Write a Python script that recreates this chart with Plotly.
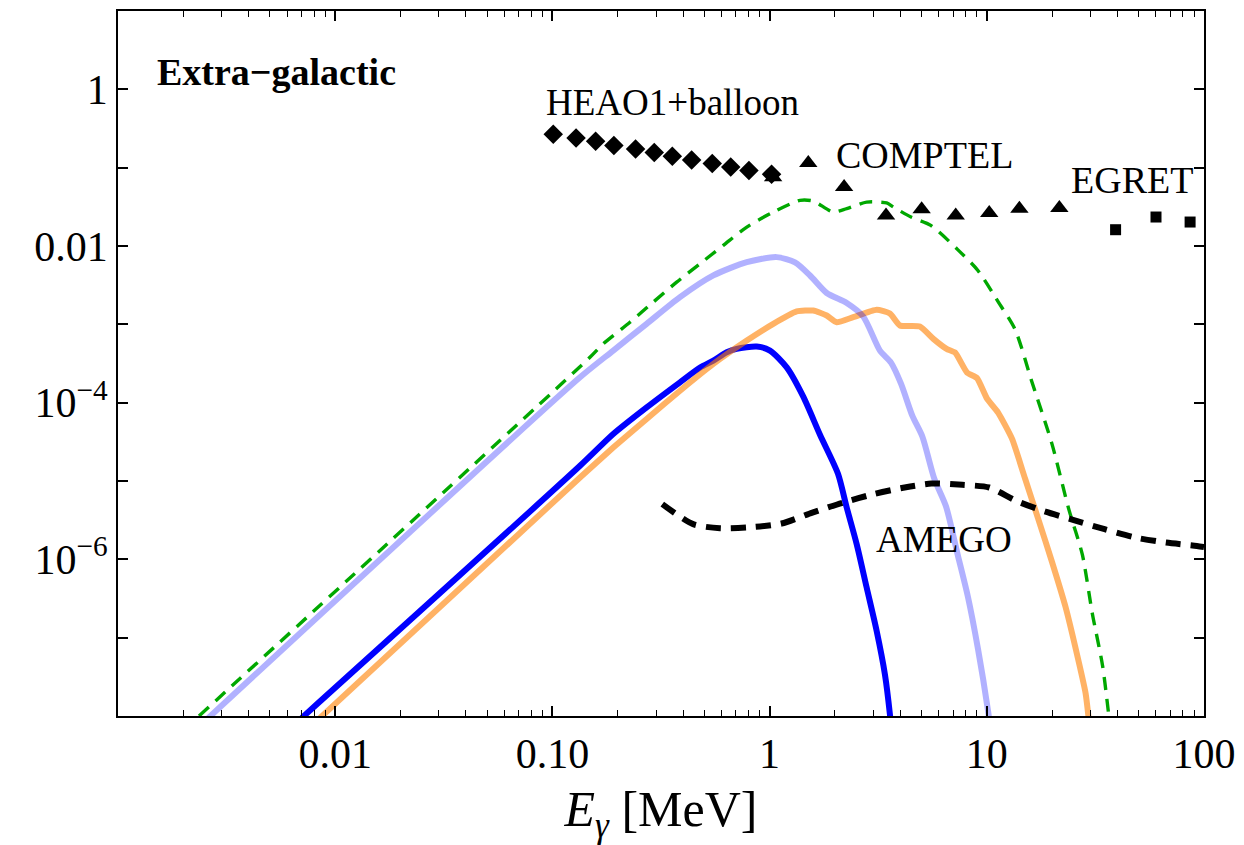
import plotly.graph_objects as go

# ---------------- data ----------------
# Blue solid curve
blue_E = [7.015e-3, 0.1340, 0.1906, 0.2716, 0.3868, 0.4786, 0.5508, 0.6346, 0.7055, 0.8723,
          1.004, 1.199, 1.429, 1.706, 2.065, 2.265, 2.518, 2.799, 3.112, 3.396, 3.581, 3.622]
blue_F = [9.46e-9, 1.563e-5, 3.981e-5, 8.710e-5, 1.820e-4, 2.805e-4, 3.443e-4, 4.395e-4, 4.864e-4, 5.200e-4,
          4.624e-4, 2.825e-4, 1.194e-4, 3.899e-5, 1.236e-5, 4.581e-6, 1.560e-6, 4.345e-7, 1.213e-7, 3.396e-8, 1.045e-8, 7.41e-9]

# Light-blue (lavender) curve
lav_E = [2.606e-3, 0.1340, 0.1906, 0.2716, 0.3868, 0.5508, 0.7852, 1.079, 1.309, 1.535, 1.832, 2.265, 2.698,
         3.221, 3.622, 4.027, 4.539, 5.053, 5.728, 6.486, 7.345, 8.178, 9.099, 10.13, 10.35]
lav_F = [9.46e-9, 2.108e-4, 4.624e-4, 1.014e-3, 2.223e-3, 4.207e-3, 6.223e-3, 7.211e-3, 6.166e-3, 4.207e-3,
         2.512e-3, 1.871e-3, 1.259e-3, 4.624e-4, 3.251e-4, 1.750e-4, 6.823e-5, 3.673e-5, 1.076e-5, 4.764e-6,
         1.146e-6, 3.365e-7, 7.295e-8, 1.167e-8, 7.41e-9]

# Orange curve
orange_E = [8.511e-3, 0.1340, 0.1906, 0.2716, 0.3868, 0.5508, 0.7852, 1.040, 1.333, 1.589, 1.832, 2.037,
            2.427, 3.112, 3.581, 3.981, 4.920, 5.675, 6.531, 7.145, 8.110, 9.016, 10.02, 11.27, 13.06,
            15.00, 17.32, 19.95, 23.03, 25.64, 28.51, 29.54]
orange_F = [9.46e-9, 1.109e-5, 2.679e-5, 6.194e-5, 1.422e-4, 3.126e-4, 6.209e-4, 1.014e-3, 1.459e-3, 1.500e-3,
            1.297e-3, 1.064e-3, 1.233e-3, 1.531e-3, 1.374e-3, 9.66e-4, 9.376e-4, 6.531e-4, 4.864e-4, 4.355e-4,
            2.421e-4, 2.056e-4, 1.125e-4, 7.464e-5, 3.467e-5, 1.076e-5, 3.170e-6, 9.311e-7, 2.477e-7,
            7.295e-8, 1.941e-8, 8.59e-9]

# Green dashed curve
green_E = [2.360e-3, 0.1489, 0.1714, 0.2275, 0.2911, 0.3733, 0.4786, 0.6124, 0.7852, 1.040, 1.380, 1.589,
           1.963, 2.265, 2.799, 3.459, 3.715, 4.477, 5.521, 7.345, 9.099, 11.27, 13.49, 16.11, 19.95,
           23.88, 27.54, 30.62, 34.12, 36.81]
green_F = [1.0e-8, 3.793e-4, 5.636e-4, 1.064e-3, 1.919e-3, 3.451e-3, 5.943e-3, 1.019e-2, 1.746e-2, 2.716e-2,
           3.828e-2, 3.750e-2, 2.716e-2, 3.000e-2, 3.639e-2, 3.540e-2, 3.141e-2, 2.344e-2, 1.832e-2, 8.995e-3,
           4.875e-3, 1.950e-3, 8.630e-4, 1.866e-4, 2.979e-5, 4.305e-6, 1.146e-6, 2.023e-7, 4.385e-8, 7.94e-9]

# AMEGO sensitivity (black dashed)
amego_E = [0.3206, 0.4446, 0.5908, 0.8531, 1.135, 1.573, 2.180, 3.018, 4.183, 5.566, 7.709, 10.26, 13.66,
           18.16, 25.16, 34.86, 48.31, 66.99, 92.68, 100.0]
amego_F = [5.070e-6, 2.812e-6, 2.500e-6, 2.594e-6, 2.864e-6, 3.954e-6, 5.309e-6, 6.808e-6, 8.260e-6, 9.290e-6,
           8.933e-6, 8.260e-6, 5.585e-6, 4.159e-6, 3.162e-6, 2.427e-6, 1.897e-6, 1.637e-6, 1.483e-6, 1.439e-6]

# Data points
heao_E = [0.1009, 0.1285, 0.1581, 0.1919, 0.2415, 0.2944, 0.3565, 0.4375, 0.5445, 0.6622, 0.8035, 1.021]
heao_F = [0.2673, 0.2399, 0.2178, 0.1919, 0.1734, 0.1560, 0.1400, 0.1256, 0.1127, 0.1021, 0.0918, 0.0824]

comptel_E = [1.038, 1.507, 2.203, 3.436, 5.012, 7.194, 10.26, 14.13, 21.58]
comptel_F = [0.0753, 0.1148, 0.0566, 0.0246, 0.0294, 0.0246, 0.0264, 0.0300, 0.0305]

egret_E = [39.17, 60.12, 86.30]
egret_F = [0.01614, 0.02344, 0.02023]

# Axis ticks
x_major = [0.01, 0.1, 1, 10, 100]
x_major_text = ["0.01", "0.10", "1", "10", "100"]
y_decades = [1e-8, 1e-7, 1e-6, 1e-5, 1e-4, 1e-3, 1e-2, 1e-1, 1, 10]
y_labels = {1e-6: "10<sup>\u22126</sup>", 1e-4: "10<sup>\u22124</sup>", 1e-2: "0.01", 1: "1"}

# ---------------- figure ----------------
FONT = "Liberation Serif"
fig = go.Figure()

SM = 0.7
fig.add_trace(go.Scatter(x=blue_E, y=blue_F, mode="lines",
                         line=dict(color="#0000FF", width=6, shape="spline", smoothing=SM), showlegend=False))
fig.add_trace(go.Scatter(x=orange_E, y=orange_F, mode="lines", opacity=0.6,
                         line=dict(color="rgb(255,128,0)", width=6, shape="spline", smoothing=0.5), showlegend=False))
fig.add_trace(go.Scatter(x=lav_E, y=lav_F, mode="lines", opacity=0.3,
                         line=dict(color="#0000FF", width=6, shape="spline", smoothing=SM), showlegend=False))
fig.add_trace(go.Scatter(x=green_E, y=green_F, mode="lines",
                         line=dict(color="#00A800", width=3.4, dash="13px,9px", shape="spline", smoothing=SM),
                         showlegend=False))
fig.add_trace(go.Scatter(x=amego_E, y=amego_F, mode="lines",
                         line=dict(color="black", width=6, dash="15px,10px", shape="spline", smoothing=SM),
                         showlegend=False))

fig.add_trace(go.Scatter(x=heao_E, y=heao_F, mode="markers",
                         marker=dict(symbol="diamond", size=15, color="black"), showlegend=False))
fig.add_trace(go.Scatter(x=comptel_E, y=comptel_F, mode="markers",
                         marker=dict(symbol="triangle-up", size=16, color="black"), showlegend=False))
fig.add_trace(go.Scatter(x=egret_E, y=egret_F, mode="markers",
                         marker=dict(symbol="square", size=11, color="black"), showlegend=False))

# minor x ticks (2..9 of each decade)
x_minor = []
for d in [1e-3, 1e-2, 1e-1, 1, 10]:
    for k in range(2, 10):
        x_minor.append(k * d)

fig.update_xaxes(type="log", range=[-3, 2], automargin=False,
                 tickmode="array", tickvals=x_major, ticktext=x_major_text,
                 ticks="inside", ticklen=10, tickwidth=1.5, tickcolor="black",
                 minor=dict(tickmode="array", tickvals=x_minor, ticks="inside", ticklen=6,
                            tickwidth=1.2, tickcolor="black", showgrid=False),
                 showline=True, linecolor="black", linewidth=1.8, mirror="ticks",
                 showgrid=False, zeroline=False,
                 tickfont=dict(family=FONT, size=42, color="black"),
                 title=dict(text="<i>E</i><sub><i>\u03b3</i></sub> [MeV]",
                            font=dict(family=FONT, size=50, color="black"), standoff=26))

fig.update_yaxes(type="log", range=[-8, 1], automargin=False,
                 tickmode="array", tickvals=y_decades,
                 ticktext=[y_labels.get(v, "") for v in y_decades],
                 ticks="inside", ticklen=10, tickwidth=1.5, tickcolor="black",
                 showline=True, linecolor="black", linewidth=1.8, mirror="ticks",
                 showgrid=False, zeroline=False,
                 tickfont=dict(family=FONT, size=42, color="black"))

ann_font = dict(family=FONT, size=38, color="black")
annotations = [
    dict(text="<b>Extra\u2212galactic</b>", x=0.034, y=0.913, font=dict(family=FONT, size=38, color="black")),
    dict(text="HEAO1+balloon", x=0.392, y=0.870, font=dict(family=FONT, size=37, color="black")),
    dict(text="COMPTEL", x=0.659, y=0.796, font=ann_font),
    dict(text="EGRET", x=0.876, y=0.760, font=ann_font),
    dict(text="AMEGO", x=0.696, y=0.250, font=dict(family=FONT, size=37, color="black")),
]
for a in annotations:
    fig.add_annotation(xref="paper", yref="paper", xanchor="left", yanchor="middle",
                       showarrow=False, **a)

fig.update_layout(width=1244, height=845,
                  margin=dict(l=118, r=40, t=11, b=129),
                  plot_bgcolor="white", paper_bgcolor="white",
                  font=dict(family=FONT, color="black"))

fig.write_html("out.html")
